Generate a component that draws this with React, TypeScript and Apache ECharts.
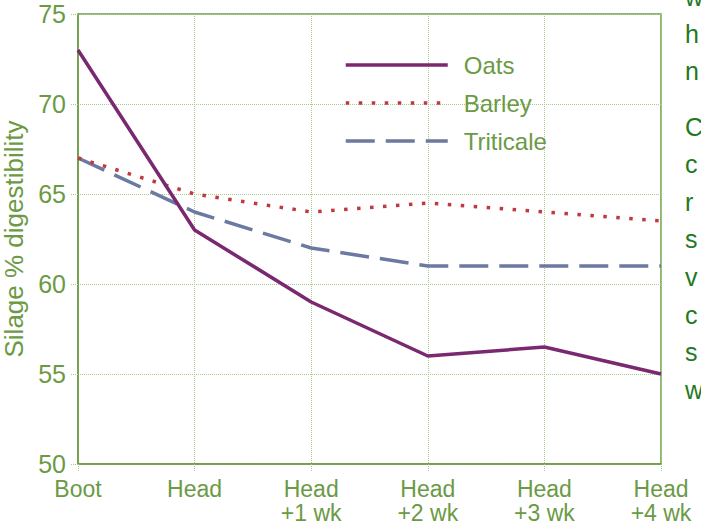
import React, { useEffect, useRef } from "react";
import * as echarts from "echarts";

const categories = ["Boot", "Head", "Head\n+1 wk", "Head\n+2 wk", "Head\n+3 wk", "Head\n+4 wk"];
const oats = [73, 63, 59, 56, 56.5, 55];
const barley = [67, 65, 64, 64.5, 64, 63.5];
const triticale = [67, 64, 62, 61, 61, 61];
const sideLetters = ["w", "h", "n", "C", "c", "r", "s", "v", "c", "s", "w"];
const sideLetterY = [-2, 35, 72, 128, 165, 203, 240, 278, 316, 353, 391];

const GREEN = "#6b9a45";
const GRID_GREEN = "#a9c98f";
const FONT = "'Liberation Sans', Arial, sans-serif";

export default function App() {
  const ref = useRef<HTMLDivElement>(null);
  useEffect(() => {
    if (!ref.current) return;
    const chart = echarts.init(ref.current, null, { renderer: "svg" });
    chart.setOption({
      animation: false,
      grid: {
        left: 78,
        right: 40,
        top: 14,
        bottom: 63,
        containLabel: false,
        outerBoundsMode: "none",
        show: true,
        borderColor: GREEN,
        borderWidth: 1.5,
        backgroundColor: "transparent",
      },
      legend: {
        orient: "vertical",
        left: 339,
        top: 48,
        itemWidth: 102,
        itemHeight: 14,
        itemGap: 14,
        data: ["Oats", "Barley", "Triticale"],
        itemStyle: { opacity: 0 },
        lineStyle: { width: 3.5 },
        textStyle: {
          color: GREEN,
          fontSize: 24,
          lineHeight: 24,
          fontFamily: FONT,
          padding: [0, 0, 0, 11],
        },
      },
      xAxis: {
        type: "category",
        data: categories,
        boundaryGap: false,
        axisLine: { lineStyle: { color: GREEN, width: 1.5 } },
        axisTick: {
          show: true,
          length: 8,
          lineStyle: { color: GRID_GREEN, type: "dotted" },
        },
        axisLabel: {
          color: GREEN,
          fontSize: 23,
          lineHeight: 24,
          margin: 13,
          fontFamily: FONT,
          interval: 0,
        },
        splitLine: {
          show: true,
          lineStyle: { color: GRID_GREEN, type: "dotted", width: 1 },
        },
      },
      yAxis: {
        type: "value",
        min: 50,
        max: 75,
        interval: 5,
        name: "Silage % digestibility",
        nameLocation: "middle",
        nameGap: 45,
        nameTextStyle: { color: GREEN, fontSize: 26, fontFamily: FONT },
        axisLine: { show: true, lineStyle: { color: GREEN, width: 1.5 } },
        axisTick: {
          show: true,
          length: 8,
          lineStyle: { color: GRID_GREEN, type: "dotted" },
        },
        axisLabel: { color: GREEN, fontSize: 25, margin: 12, fontFamily: FONT },
        splitLine: {
          show: true,
          lineStyle: { color: GRID_GREEN, type: "dotted", width: 1 },
        },
      },
      series: [
        {
          name: "Triticale",
          type: "line",
          data: triticale,
          symbol: "none",
          lineStyle: { color: "#6c79a0", width: 3.5, type: [29, 11] },
          itemStyle: { color: "#6c79a0" },
        },
        {
          name: "Barley",
          type: "line",
          data: barley,
          symbol: "none",
          lineStyle: { color: "#c0393c", width: 3.5, type: [3.5, 9.5] },
          itemStyle: { color: "#c0393c" },
        },
        {
          name: "Oats",
          type: "line",
          data: oats,
          symbol: "none",
          lineStyle: { color: "#7a2870", width: 3.5 },
          itemStyle: { color: "#7a2870" },
        },
      ],
      graphic: sideLetters.map((t, i) => ({
        type: "text",
        left: 685,
        top: sideLetterY[i] - 14,
        style: {
          text: t,
          fill: "#1f7a22",
          fontSize: 25,
          fontFamily: FONT,
        },
      })),
    });
    return () => chart.dispose();
  }, []);
  return <div ref={ref} style={{ width: 701, height: 527, position: "absolute", left: 0, top: 0 }} />;
}
